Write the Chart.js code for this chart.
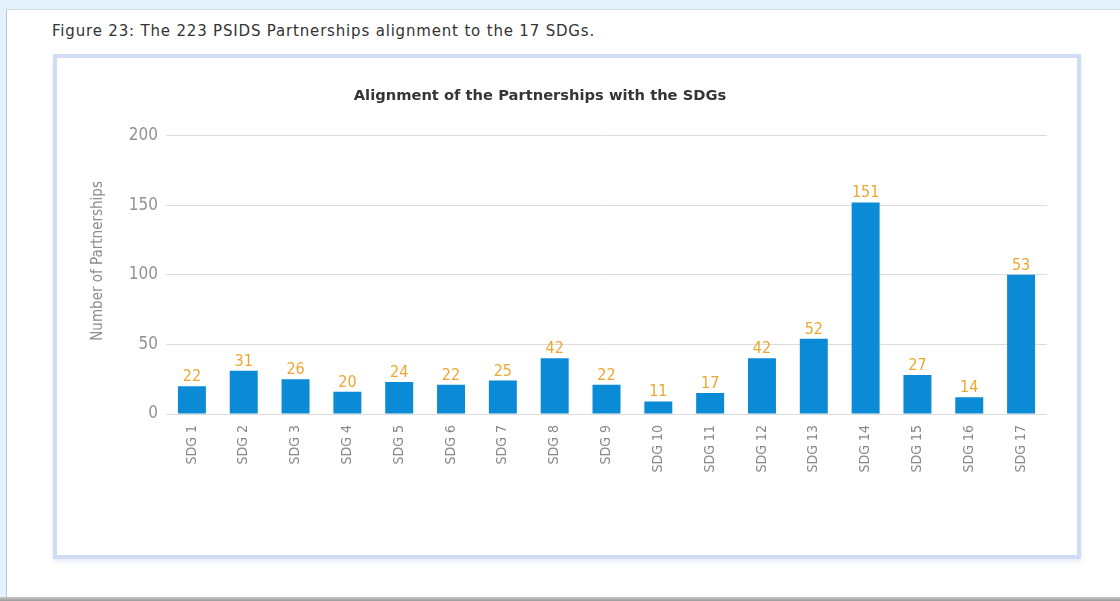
<!DOCTYPE html>
<html>
<head>
<meta charset="utf-8">
<script src="https://cdn.jsdelivr.net/npm/chart.js@4.4.1/dist/chart.umd.min.js"></script>
<style>
  html, body { margin: 0; padding: 0; }
  body { width: 1120px; height: 601px; background: #e3f2fb; position: relative; overflow: hidden; }
  #panel { position: absolute; left: 6px; top: 9px; width: 1114px; height: 589px; background: #ffffff;
           border-left: 1px solid #b9c6cf; border-top: 1px solid #cdd8df; box-sizing: border-box; }
  #bottomline { position: absolute; left: 0; top: 597px; width: 1120px; height: 4px;
                background: linear-gradient(#c8c8c8, #9a9a9a); }
  #figtitle { position: absolute; left: 52px; top: 22px; font-family: "DejaVu Sans", sans-serif;
              font-size: 15px; letter-spacing: 0.82px; color: #333333; white-space: nowrap; }
  #box { position: absolute; left: 53px; top: 54px; width: 1028px; height: 505px; box-sizing: border-box;
         border: 4px solid #cfdcf2; box-shadow: 0 3px 4px rgba(205,215,235,0.45); background: #fff; }
  #wrap { position: absolute; left: 57px; top: 58px; width: 1020px; height: 497px; }
</style>
</head>
<body>
<div id="panel"></div>
<div id="bottomline"></div>
<div id="figtitle">Figure 23: The 223 PSIDS Partnerships alignment to the 17 SDGs.</div>
<div id="box"></div>
<div id="wrap"><canvas id="c" width="1020" height="497"></canvas></div>
<script>
const categories = ["SDG 1","SDG 2","SDG 3","SDG 4","SDG 5","SDG 6","SDG 7","SDG 8","SDG 9","SDG 10","SDG 11","SDG 12","SDG 13","SDG 14","SDG 15","SDG 16","SDG 17"];
const barValues = [20, 31, 25, 16, 23, 21, 24, 40, 21, 9, 15, 40, 54, 152, 28, 12, 100];
const labelTexts = ["22","31","26","20","24","22","25","42","22","11","17","42","52","151","27","14","53"];
const yTicks = [0, 50, 100, 150, 200];
const chartTitle = "Alignment of the Partnerships with the SDGs";
const yTitle = "Number of Partnerships";

const valueLabels = {
  id: 'valueLabels',
  afterDatasetsDraw(chart) {
    const ctx = chart.ctx;
    const meta = chart.getDatasetMeta(0);
    ctx.save();
    ctx.font = '16px "DejaVu Sans Condensed", "DejaVu Sans", sans-serif';
    ctx.fillStyle = '#eea633';
    ctx.textAlign = 'center';
    ctx.textBaseline = 'alphabetic';
    meta.data.forEach((bar, i) => {
      ctx.fillText(labelTexts[i], bar.x, bar.y - 5);
    });
    ctx.restore();
  }
};

const titles = {
  id: 'titles',
  afterDraw(chart) {
    const ctx = chart.ctx;
    const area = chart.chartArea;
    ctx.save();
    // chart title
    ctx.font = 'bold 14.7px "DejaVu Sans", sans-serif';
    ctx.fillStyle = '#353535';
    ctx.textAlign = 'center';
    ctx.textBaseline = 'middle';
    ctx.fillText(chartTitle, 483, 38);
    // y axis title
    ctx.translate(41, area.top + (area.bottom - area.top) * 0.45);
    ctx.rotate(-Math.PI / 2);
    ctx.font = '15px "DejaVu Sans Condensed", "DejaVu Sans", sans-serif';
    ctx.fillStyle = '#8c8c8c';
    ctx.fillText(yTitle, 0, 0);
    ctx.restore();
  }
};

new Chart(document.getElementById('c'), {
  type: 'bar',
  data: {
    labels: categories,
    datasets: [{
      data: barValues,
      backgroundColor: '#0b8bd6',
      borderWidth: 0,
      barPercentage: 0.54,
      categoryPercentage: 1.0
    }]
  },
  options: {
    responsive: false,
    animation: false,
    devicePixelRatio: 1,
    layout: { padding: { left: 0, right: 30, top: 77.6, bottom: 11 } },
    plugins: {
      legend: { display: false },
      tooltip: { enabled: false },
      title: { display: false }
    },
    scales: {
      x: {
        grid: { display: false, drawTicks: false },
        border: { display: false },
        ticks: {
          color: '#878787',
          font: { family: '"DejaVu Sans Condensed", "DejaVu Sans", sans-serif', size: 14 },
          maxRotation: 90, minRotation: 90, autoSkip: false, padding: 11
        },
        afterFit(scale) { scale.height = 130; }
      },
      y: {
        min: 0, max: 200,
        afterBuildTicks(scale) { scale.ticks = yTicks.map(v => ({ value: v })); },
        grid: { color: '#dcdcdc', lineWidth: 1, drawTicks: false },
        border: { display: false },
        ticks: {
          color: '#929292',
          font: { family: '"DejaVu Sans Condensed", "DejaVu Sans", sans-serif', size: 17 },
          padding: 8
        },
        title: { display: false },
        afterFit(scale) { scale.width = 109; }
      }
    }
  },
  plugins: [valueLabels, titles]
});
</script>
</body>
</html>
